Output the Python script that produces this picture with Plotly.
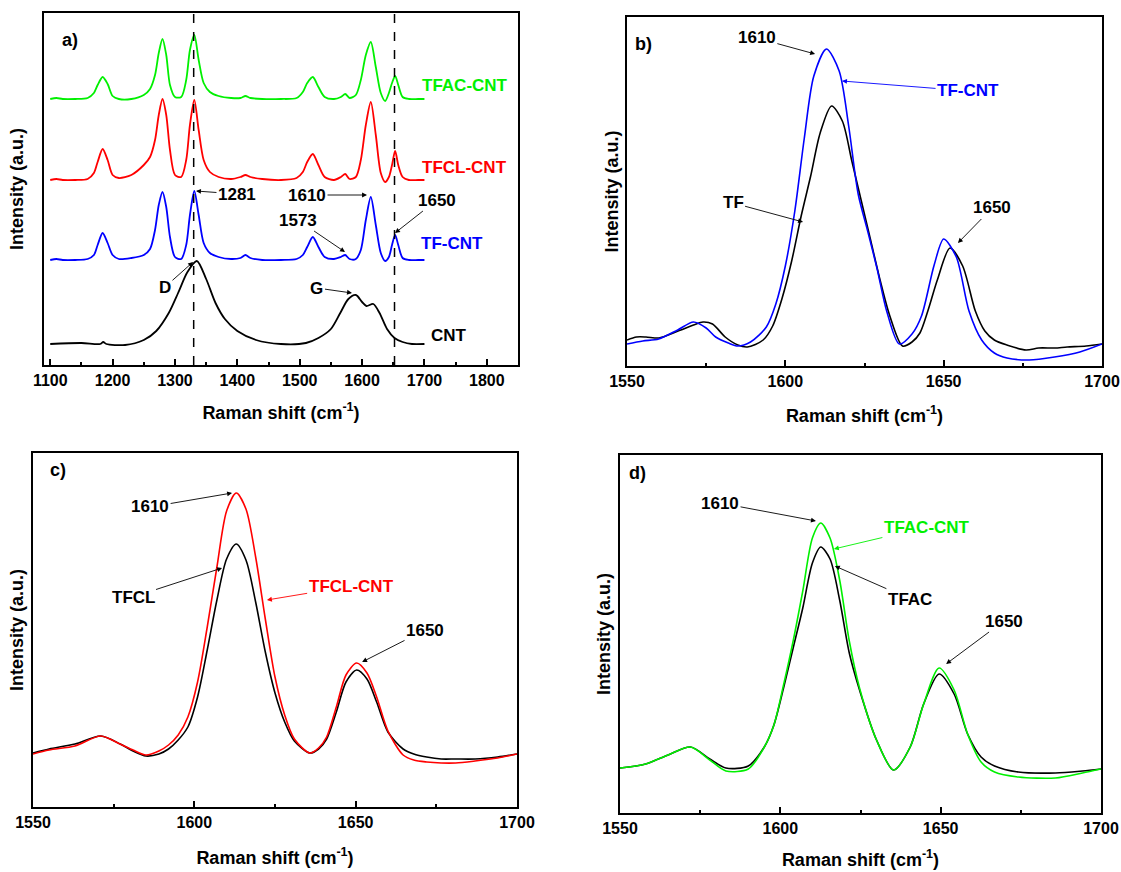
import plotly.graph_objects as go

# ---------------- data (intensity in arbitrary units) ----------------
# Panel a: full spectra (stacked with offsets)
a_x = [1100, 1110, 1120, 1140, 1160, 1170, 1176, 1184, 1192, 1200, 1210, 1230, 1250, 1260,
       1268, 1274, 1280, 1286, 1292, 1300, 1310, 1318, 1324, 1331, 1338, 1346, 1356, 1370,
       1390, 1405, 1413, 1421, 1440, 1470, 1495, 1505, 1512, 1521, 1530, 1540, 1555, 1566,
       1573, 1580, 1590, 1598, 1606, 1614, 1622, 1630, 1637, 1643, 1648, 1653, 1658, 1665,
       1675, 1690, 1700]
a_tf_cnt = [105, 106, 105, 105, 106, 110, 120, 132, 122, 110, 106, 107, 110, 116,
            135, 160, 173, 158, 128, 108, 106, 120, 150, 174, 150, 122, 112, 108,
            106, 107, 110, 107, 105, 105, 106, 110, 118, 128, 118, 108, 106, 108,
            110, 106, 106, 115, 145, 168, 140, 112, 104, 108, 120, 130, 120, 107,
            105, 105, 105]
a_tfcl_cnt = [185, 186, 185, 185, 186, 192, 203, 216, 205, 190, 187, 190, 200, 208,
              225, 250, 266, 250, 215, 190, 188, 205, 240, 265, 235, 205, 193, 188,
              186, 188, 190, 188, 186, 185, 187, 193, 203, 211, 200, 188, 185, 188,
              191, 186, 188, 205, 240, 263, 230, 192, 183, 188, 200, 214, 200, 188,
              185, 185, 185]
a_tfac_cnt = [266, 267, 266, 266, 267, 272, 280, 288, 281, 269, 266, 266, 270, 276,
              290, 312, 326, 310, 280, 268, 268, 285, 315, 330, 305, 282, 273, 269,
              267, 267, 269, 267, 266, 266, 267, 273, 282, 288, 278, 268, 266, 268,
              271, 267, 270, 285, 310, 323, 298, 272, 264, 272, 282, 289, 280, 268,
              266, 266, 266]
a_cnt_x = [1100, 1150, 1180, 1185, 1190, 1220, 1250, 1270, 1290, 1305, 1320, 1335, 1350,
           1365, 1380, 1400, 1430, 1470, 1510, 1530, 1550, 1565, 1578, 1590, 1600, 1607,
           1618, 1628, 1640, 1652, 1665, 1680, 1700]
a_cnt = [21, 22, 21, 23, 21, 20, 25, 34, 52, 72, 93, 104, 86,
         62, 46, 34, 25, 21, 22, 27, 36, 52, 66, 70, 63, 59,
         61, 52, 36, 27, 23, 21, 21]
a_dashed = [1330, 1652]

# Panel b: TF vs TF-CNT
b_cnt_x = [1550, 1555, 1560, 1566, 1571, 1575, 1578, 1582, 1585, 1589, 1594, 1597, 1600,
           1603, 1606, 1609, 1613, 1617, 1620, 1623, 1626, 1629, 1632, 1636, 1640, 1643,
           1647, 1650, 1654, 1658, 1662, 1666, 1670, 1677, 1685, 1693, 1700]
b_tf_cnt = [22, 25, 27, 36, 44, 38, 29, 23, 20, 24, 39, 62, 100,
            155, 228, 290, 317, 295, 240, 172, 135, 97, 55, 22, 32, 50,
            101, 127, 109, 55, 26, 13, 8, 6, 9, 14, 22]
b_tf_x = [1550, 1553, 1556, 1560, 1563, 1567, 1571, 1574, 1577, 1581, 1585, 1588, 1593,
          1596, 1599, 1602, 1605, 1608, 1611, 1614.6, 1618, 1621, 1624, 1627, 1630, 1633,
          1637, 1640, 1642.5, 1645, 1648, 1652, 1656, 1660, 1663, 1666, 1670, 1676, 1680,
          1685, 1689, 1695, 1700]
b_tf = [26, 29, 29, 28, 31, 36, 41, 44, 42, 29, 21, 19, 26,
        40, 68, 105, 150, 190, 233, 260, 245, 205, 165, 125, 85, 50,
        20, 24, 33, 55, 86, 118, 100, 55, 35, 26, 21, 16, 18,
        18, 19, 20, 22]

# Panel c: TFCL vs TFCL-CNT
c_x = [1550, 1555, 1563, 1571, 1577, 1581, 1585, 1589, 1592, 1595, 1598, 1601, 1604, 1607,
       1610, 1613, 1616, 1619, 1622, 1625, 1628, 1631, 1635.8, 1638.5, 1641, 1644, 1647,
       1650.3, 1653.5, 1656.5, 1660, 1664.7, 1668, 1672, 1676.5, 1681, 1687, 1694, 1700]
c_tfcl = [54, 58, 63, 71, 63, 56, 51, 53, 58, 67, 80, 110, 157, 207,
          248, 263, 247, 205, 155, 114, 85, 66, 54, 58, 68, 95, 125,
          137, 128, 105, 75, 58, 53, 50, 48, 48, 48, 50, 53]
c_tfcl_cnt = [53, 57, 61, 71, 63, 57, 52, 56, 62, 72, 90, 125, 180, 240,
              296, 314, 298, 250, 188, 130, 92, 68, 54, 59, 70, 100, 132,
              144, 134, 110, 76, 52, 47, 45, 44, 44, 46, 49, 53]

# Panel d: TFAC vs TFAC-CNT
d_x = [1550, 1558, 1565, 1572, 1578, 1583, 1590, 1595, 1598, 1601, 1604, 1607, 1610,
       1612.6, 1615.5, 1618.5, 1621.5, 1624.7, 1630, 1635.3, 1640.5, 1644.7, 1649.5,
       1654.2, 1658.4, 1662.6, 1666.8, 1674.2, 1685.8, 1694.2, 1700]
d_tfac = [45, 49, 58, 66, 54, 45, 47, 66, 88, 125, 165, 205, 250,
          266, 254, 213, 160, 123, 73, 43, 66, 109, 139,
          119, 79, 56, 47, 41, 40, 42, 44]
d_tfac_cnt = [45, 49, 58, 66, 53, 42, 44, 66, 88, 128, 172, 222, 275,
              290, 275, 233, 172, 125, 73, 43, 66, 109, 145,
              123, 79, 51, 41, 36, 35, 40, 44]

# ---------------- styling ----------------
W, H = 1121, 872
FONT = "Liberation Sans, Arial, sans-serif"
BLACK, BLUE, RED, GREEN = "#000000", "#0000FF", "#FF0000", "#00F000"

def px_dom(x0, x1, y0, y1):
    return [x0 / W, x1 / W], [1 - y1 / H, 1 - y0 / H]

boxes = {
    "a": px_dom(44, 518, 13, 365),
    "b": px_dom(627, 1102, 17, 366),
    "c": px_dom(33, 517, 453, 807),
    "d": px_dom(620, 1101, 455, 813),
}

fig = go.Figure()

def line(x, y, color, xa, ya, width=1.8):
    fig.add_trace(go.Scatter(x=x, y=y, mode="lines", xaxis=xa, yaxis=ya,
                             line=dict(color=color, width=width, shape="spline", smoothing=0.8),
                             showlegend=False, hoverinfo="skip"))

line(a_cnt_x, a_cnt, BLACK, "x", "y")
line(a_x, a_tf_cnt, BLUE, "x", "y")
line(a_x, a_tfcl_cnt, RED, "x", "y")
line(a_x, a_tfac_cnt, GREEN, "x", "y")

line(b_tf_x, b_tf, BLACK, "x2", "y2", 1.6)
line(b_cnt_x, b_tf_cnt, BLUE, "x2", "y2", 1.6)

line(c_x, c_tfcl, BLACK, "x3", "y3", 1.6)
line(c_x, c_tfcl_cnt, RED, "x3", "y3", 1.6)

line(d_x, d_tfac, BLACK, "x4", "y4", 1.6)
line(d_x, d_tfac_cnt, GREEN, "x4", "y4", 1.6)

tickfont = dict(family=FONT, size=16, color="black", weight="bold")
titlefont = dict(family=FONT, size=18, color="black", weight="bold")

def xaxis(dom, rng, dtick, mdtick, anchor, standoff):
    return dict(domain=dom, range=rng, anchor=anchor, automargin=False,
                showline=True, linecolor="black", linewidth=2,
                mirror=True, ticks="inside", ticklen=6, tickwidth=1.5, tickcolor="black",
                dtick=dtick, showgrid=False, zeroline=False, tickfont=tickfont,
                minor=dict(ticks="inside", ticklen=3, tickwidth=1.5, tickcolor="black", dtick=mdtick),
                title=dict(text="Raman shift (cm<sup>-1</sup>)", font=titlefont, standoff=standoff))

def yaxis(dom, rng, anchor, standoff):
    return dict(domain=dom, range=rng, anchor=anchor, automargin=False,
                showline=True, linecolor="black", linewidth=2,
                mirror=True, ticks="", showticklabels=False, showgrid=False, zeroline=False,
                title=dict(text="Intensity (a.u.)", font=titlefont, standoff=standoff))

xa, ya = boxes["a"]; xb, yb = boxes["b"]; xc, yc = boxes["c"]; xd, yd = boxes["d"]
fig.update_layout(
    width=W, height=H, margin=dict(l=0, r=0, t=0, b=0, autoexpand=False),
    paper_bgcolor="white", plot_bgcolor="white",
    xaxis=xaxis(xa, [1090, 1850], 100, 50, "y", 18),
    yaxis=yaxis(ya, [0, 352], "x", 14),
    xaxis2=xaxis(xb, [1550, 1700], 50, 25, "y2", 20),
    yaxis2=yaxis(yb, [0, 349], "x2", 2),
    xaxis3=xaxis(xc, [1550, 1700], 50, 25, "y3", 21),
    yaxis3=yaxis(yc, [0, 354], "x3", 3),
    xaxis4=xaxis(xd, [1550, 1700], 50, 25, "y4", 17),
    yaxis4=yaxis(yd, [0, 358], "x4", 3),
)

for xv in a_dashed:
    fig.add_shape(type="line", xref="x", yref="y domain", x0=xv, x1=xv, y0=0, y1=1,
                  line=dict(color="black", width=1.5, dash="dash"))

afont = dict(family=FONT, size=17, color="black", weight="bold")

def arrow(axn, text, hx, hy, tx, ty, color=BLACK):
    fig.add_annotation(x=hx, y=hy, ax=tx, ay=ty, xref="x" + axn, yref="y" + axn,
                       axref="x" + axn, ayref="y" + axn, text=text, showarrow=True,
                       arrowhead=2, arrowsize=1.1, arrowwidth=0.9, arrowcolor=color,
                       font=dict(afont, color=color))

def label(axn, text, tx, ty, color):
    fig.add_annotation(x=tx, y=ty, xref="x" + axn, yref="y" + axn, text=text,
                       showarrow=False, font=dict(afont, color=color))

# panel a
arrow("", "1281", 1333.7, 174, 1399.4, 171)
arrow("", "1610", 1607.9, 170, 1511.7, 170)
arrow("", "1650", 1652.8, 132, 1720, 165)
arrow("", "1573", 1572.6, 113, 1497, 145)
arrow("", "D", 1329, 103, 1284, 78)
arrow("", "G", 1583.8, 72, 1527.7, 77)
label("", "TFAC-CNT", 1765, 280, GREEN)
label("", "TFCL-CNT", 1765, 198, RED)
label("", "TF-CNT", 1744, 122, BLUE)
label("", "CNT", 1739, 30, BLACK)

# panel b
arrow("2", "1610", 1609.4, 312, 1591, 328)
arrow("2", "TF-CNT", 1617.9, 285, 1657.7, 275, BLUE)
arrow("2", "TF", 1605.6, 144, 1583.5, 163)
arrow("2", "1650", 1654.5, 123, 1665.3, 158)

# panel c
arrow("3", "1610", 1611.7, 314, 1586.3, 300)
arrow("3", "TFCL", 1608.6, 239, 1581, 210)
arrow("3", "TFCL-CNT", 1622.5, 207, 1648.6, 221, RED)
arrow("3", "1650", 1652, 145, 1671.5, 177)

# panel d
arrow("4", "1610", 1611.1, 292, 1581.2, 310)
arrow("4", "TFAC-CNT", 1616.7, 264, 1645.7, 286, GREEN)
arrow("4", "TFAC", 1617, 247, 1640.4, 214)
arrow("4", "1650", 1651.7, 149, 1669.7, 192)

# panel letters
for txt, px, py in [("a)", 60, 28), ("b)", 643, 32), ("c)", 48, 470), ("d)", 637, 473)]:
    fig.add_annotation(x=px / W, y=1 - py / H, xref="paper", yref="paper", text=txt,
                       showarrow=False, font=dict(family=FONT, size=18, color="black", weight="bold"))

fig.write_html("out.html", config={"displayModeBar": False},
               post_script="document.body.style.margin='0';")
